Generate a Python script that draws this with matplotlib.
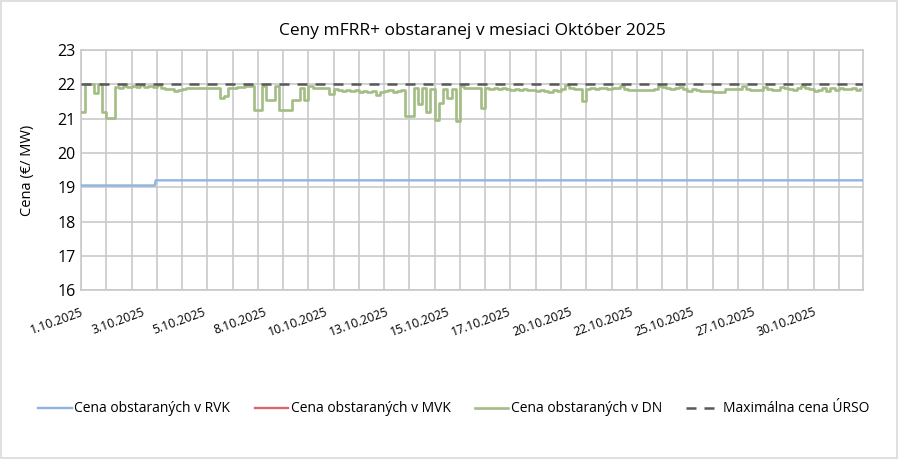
import numpy as np
import matplotlib
matplotlib.use('Agg')
from matplotlib import pyplot as plt
from matplotlib.patches import Rectangle

plt.rcParams['font.family'] = ['Open Sans', 'DejaVu Sans']

# ── Data ──────────────────────────────────────────────────────────────────────
# DN prices in 4-hour blocks, one row per day (1.10. - 31.10.2025)
dn_prices = [
    21.20, 22.00, 22.00, 21.75, 22.00, 21.20,
    21.02, 21.02, 21.92, 21.90, 21.95, 21.93,
    21.95, 21.93, 21.97, 21.92, 21.95, 21.93,
    21.97, 21.90, 21.87, 21.85, 21.80, 21.84,
    21.87, 21.88, 21.90, 21.88, 21.90, 21.90,
    21.90, 21.90, 21.90, 21.60, 21.65, 21.90,
    21.90, 21.92, 21.92, 21.95, 21.95, 21.25,
    21.25, 21.95, 21.55, 21.55, 21.95, 21.25,
    21.25, 21.25, 21.55, 21.55, 21.90, 21.55,
    21.95, 21.90, 21.90, 21.88, 21.90, 21.72,
    21.85, 21.82, 21.80, 21.82, 21.80, 21.82,
    21.78, 21.80, 21.78, 21.80, 21.70, 21.78,
    21.80, 21.82, 21.78, 21.80, 21.82, 21.08,
    21.08, 21.90, 21.43, 21.90, 21.20, 21.85,
    20.95, 21.45, 21.85, 21.60, 21.85, 20.93,
    21.95, 21.90, 21.88, 21.90, 21.90, 21.30,
    21.90, 21.86, 21.88, 21.85, 21.88, 21.86,
    21.83, 21.85, 21.82, 21.85, 21.83, 21.82,
    21.80, 21.82, 21.80, 21.78, 21.82, 21.80,
    21.85, 21.98, 21.88, 21.85, 21.85, 21.50,
    21.87, 21.88, 21.85, 21.88, 21.90, 21.87,
    21.88, 21.90, 21.94, 21.85, 21.82, 21.82,
    21.82, 21.82, 21.82, 21.82, 21.85, 21.95,
    21.93, 21.88, 21.85, 21.90, 21.93, 21.85,
    21.80, 21.85, 21.82, 21.80, 21.80, 21.80,
    21.78, 21.78, 21.78, 21.85, 21.85, 21.85,
    21.85, 21.95, 21.85, 21.82, 21.82, 21.82,
    21.93, 21.85, 21.82, 21.82, 21.92, 21.88,
    21.85, 21.83, 21.90, 21.95, 21.90, 21.85,
    21.80, 21.82, 21.88, 21.80, 21.90, 21.83,
    21.90, 21.85, 21.85, 21.90, 21.82, 21.85,
]

# RVK price: step change on 3.10.
rvk_hours  = [0, 70, 71, 743]
rvk_prices = [19.05, 19.05, 19.20, 19.20]

# MVK: no procured volume in October
mvk_hours  = []
mvk_prices = []

# regulatory maximum
urso_hours  = [0, 743]
urso_prices = [22.0, 22.0]

tick_labels = ['1.10.2025', '3.10.2025', '5.10.2025', '8.10.2025', '10.10.2025',
               '13.10.2025', '15.10.2025', '17.10.2025', '20.10.2025', '22.10.2025',
               '25.10.2025', '27.10.2025', '30.10.2025']

dn_hours = np.arange(len(dn_prices)) * 4

# ── Plot ──────────────────────────────────────────────────────────────────────
fig = plt.figure(figsize=(9, 4.59), dpi=100)
ax = fig.add_axes([0.09, 0.368, 0.869, 0.523])

# day gridlines (one per day) and price gridlines
ax.vlines(np.arange(0, 744, 24), 16, 23, color='#c9c9c9', lw=1.2, zorder=1)
ax.grid(True, axis='y', color='#c9c9c9', lw=1.2)
ax.set_axisbelow(True)

ax.plot(rvk_hours, rvk_prices, color='#8eb4e3', lw=1.7, zorder=3, label='Cena obstaraných v RVK')
ax.plot(mvk_hours, mvk_prices, color='#d9686b', lw=1.7, zorder=3, label='Cena obstaraných v MVK')
ax.plot(dn_hours, dn_prices, color='#a3bd84', lw=1.9, drawstyle='steps-post', zorder=3,
        label='Cena obstaraných v DN')
ax.plot(urso_hours, urso_prices, color='#595959', lw=1.8, dashes=(4, 3.2), zorder=4,
        label='Maximálna cena ÚRSO')

ax.set_xlim(0, 743)
ax.set_ylim(16, 23)
ax.set_yticks(range(16, 24))
ax.set_xticks(np.arange(len(tick_labels)) * 58)
ax.set_xticklabels(tick_labels, rotation=20, ha='right', rotation_mode='anchor')
ax.tick_params(axis='x', length=0, pad=11, labelsize=8.8)
ax.tick_params(axis='y', length=0, pad=4, labelsize=11.5)
for s in ax.spines.values():
    s.set_color('#c9c9c9')
    s.set_linewidth(1.2)

ax.set_ylabel('Cena (€/ MW)', fontsize=10.5, labelpad=16)
ax.set_title('Ceny mFRR+ obstaranej v mesiaci Október 2025', fontsize=12.5, pad=11)

fig.legend(loc='center', bbox_to_anchor=(0.504, 0.109), ncol=4, frameon=False,
           fontsize=10, handlelength=2.4, handletextpad=0.2, columnspacing=1.75)

fig.patches.append(Rectangle((0.001, 0.003), 0.996, 0.994, transform=fig.transFigure,
                             fill=False, edgecolor='#d9d9d9', lw=1.2))

plt.savefig('out.png', dpi=100)
